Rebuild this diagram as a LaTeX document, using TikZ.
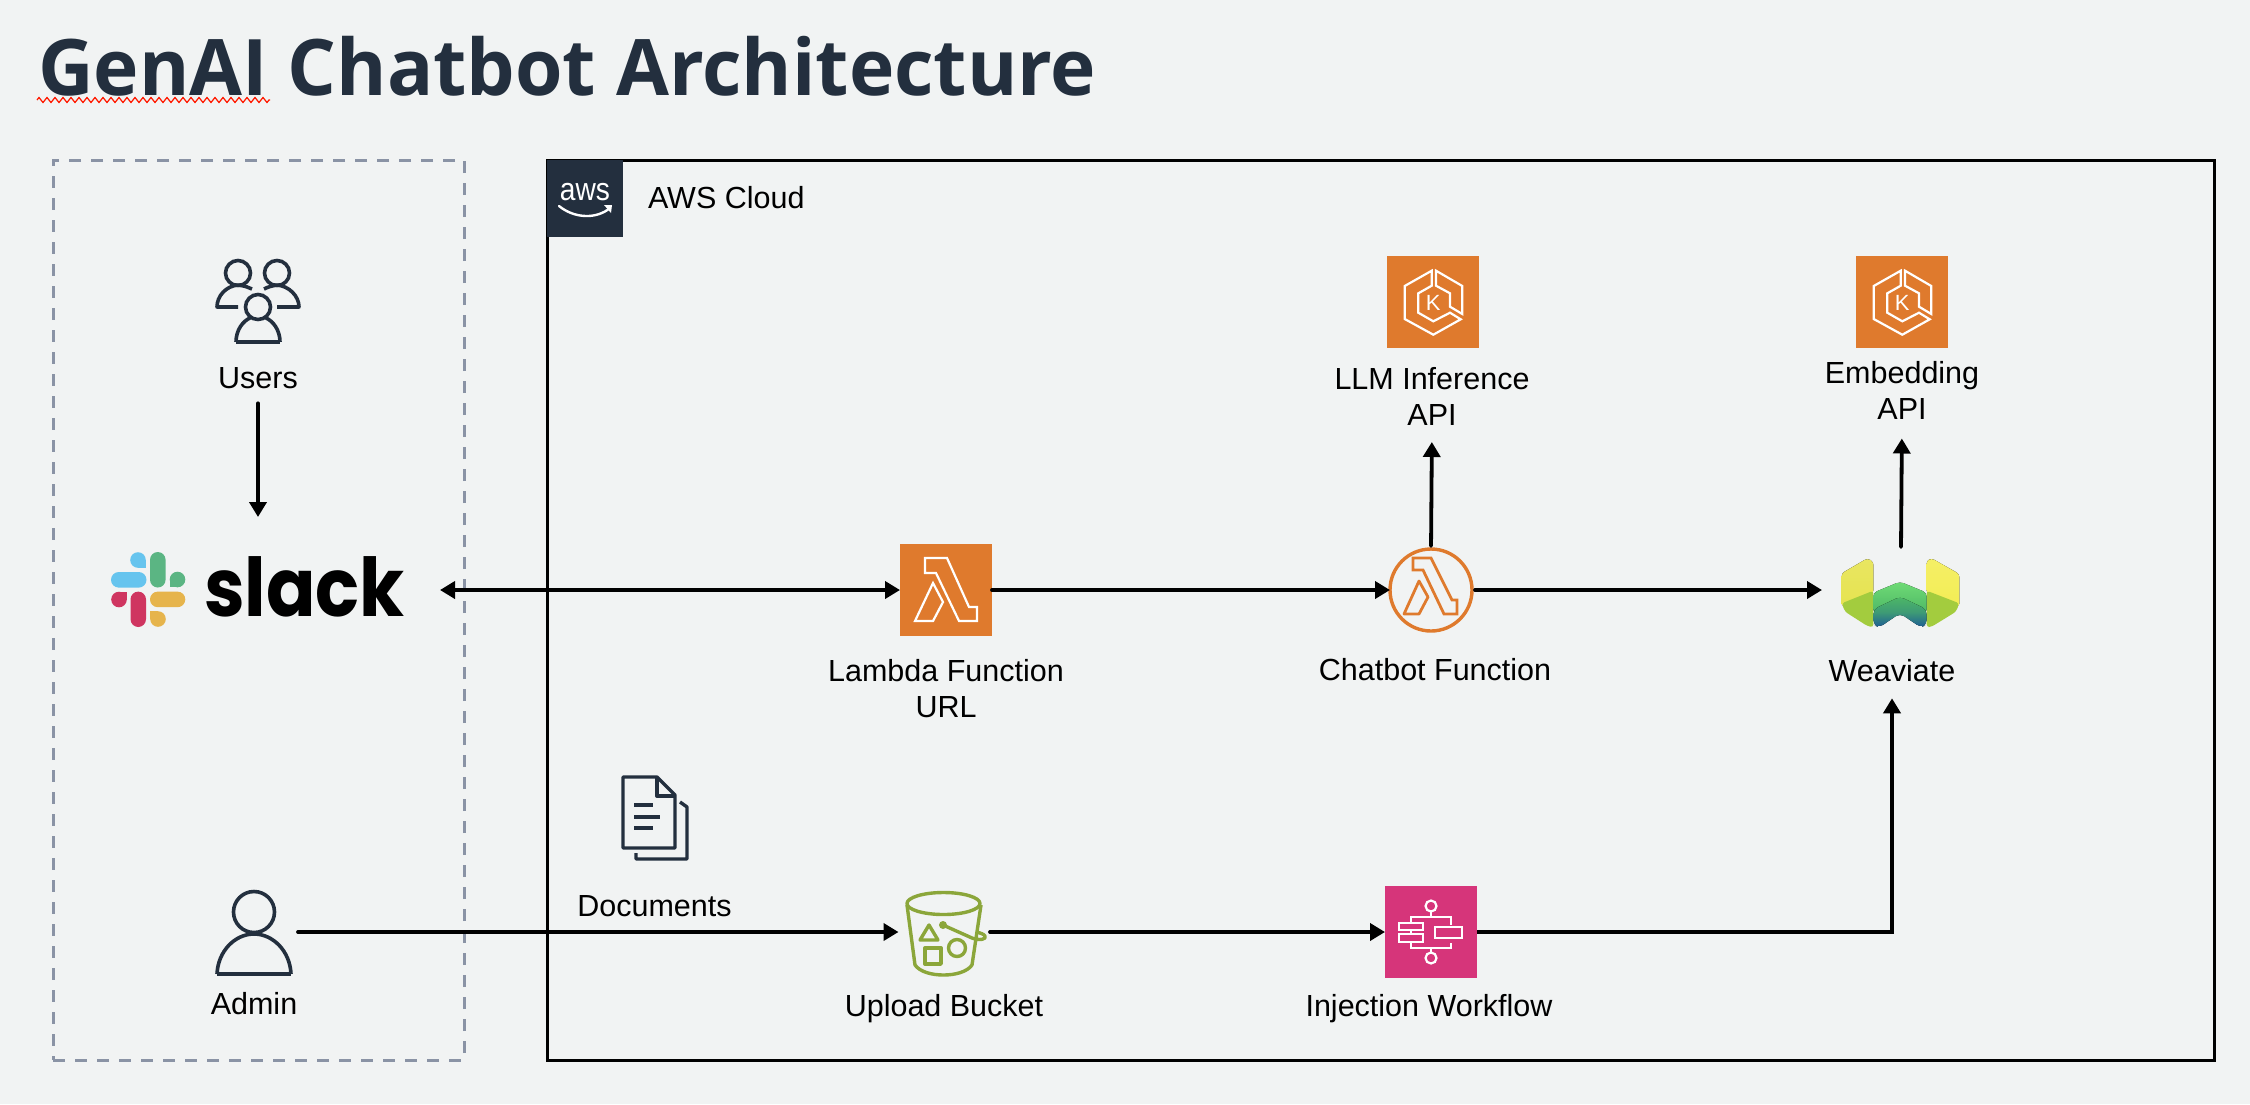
\documentclass[tikz,border=0pt]{standalone}
\usepackage{fontspec}
\setmainfont{Liberation Sans}
\newfontfamily\titlefont{Open Sans}
\newfontfamily\slackfont{Poppins}
\usetikzlibrary{arrows.meta,decorations.pathmorphing,calc}
\definecolor{bgc}{HTML}{F1F3F3}
\definecolor{ink}{HTML}{232F3E}
\definecolor{dashc}{HTML}{8A93A5}
\definecolor{awsorange}{HTML}{DF7A2D}
\definecolor{awspink}{HTML}{D6357A}
\definecolor{olive}{HTML}{8BA63A}
\definecolor{slb}{HTML}{66C4EE}
\definecolor{slg}{HTML}{5BB583}
\definecolor{slr}{HTML}{CF3560}
\definecolor{sly}{HTML}{E6B44C}
\definecolor{wvyl}{HTML}{E6E350}
\definecolor{wvyr}{HTML}{F3ED55}
\definecolor{wvlime}{HTML}{A3CC3E}
\definecolor{wvgreen}{HTML}{6FDB75}
\definecolor{wvgreenb}{HTML}{4DB766}
\definecolor{wvblue}{HTML}{1D5C96}
\newcommand{\lab}{\fontsize{30.5}{36}\selectfont}
\tikzset{
  arr/.style={line width=3.8pt,-{Triangle[length=15pt,width=17pt]},line cap=round},
  txt/.style={inner sep=0pt,outer sep=0pt,align=center,font=\lab,text=black},
  spot/.style={inner sep=0pt,outer sep=0pt,minimum width=#1,draw=none},
  tile/.style={inner sep=0pt,outer sep=0pt,minimum size=92pt,draw=none},
  wh/.style={draw=white,line width=2.2pt,line join=miter},
}
\newcommand{\kubeicon}[1]{%
  \begin{scope}[shift={(#1)}]
    \draw[white,line width=2.2pt] (-1.3,-31.3)--(-28.3,-16)--(-28.3,17)--(0.3,32.7)--(27.7,17.3)--(17,10.7)--(0.3,19.3)--(-14.7,10.7)--(-14.7,-8.7)--(-1.3,-16.3)--cycle;
    \draw[white,line width=2.2pt] (3,-31.3)--(29.3,-16)--(29.3,12)--(17,4.7)--(17,-8.7)--(3,-16.3)--cycle;
    \node[inner sep=0pt,text=white,font=\fontsize{22}{22}\selectfont] at (0.3,0.5) {K};
  \end{scope}}
\begin{document}
\begin{tikzpicture}[x=1pt,y=-1pt]
\useasboundingbox (0,0) rectangle (2250,1104);
\fill[bgc] (0,0) rectangle (2250,1104);

% title
\node[anchor=base west,inner sep=0pt,text=ink,xscale=.984] (title) at (38,95)
  {\titlefont\bfseries\fontsize{78}{78}\selectfont GenAI Chatbot Architecture};
\draw[red!80!orange,line width=1.2pt,decorate,decoration={zigzag,amplitude=2.5pt,segment length=8pt}] (37,100) -- (270,100);

% frames
\node[draw=dashc,line width=3pt,dash pattern=on 12pt off 10pt,inner sep=0pt,minimum width=411pt,minimum height=900pt] (outside) at (258.5,610) {};
\node[draw=black,line width=3pt,inner sep=0pt,minimum width=1667pt,minimum height=900pt] (cloud) at (1380.5,610) {};

% aws badge
\fill[ink] (547,160) rectangle (623,237);
\node[inner sep=0pt,text=white,anchor=base,font=\fontsize{32}{32}\selectfont,xscale=.88] (awslogo) at (585,200) {aws};
\draw[white,line width=2.4pt,line cap=round] (559,206) .. controls (575,219) and (597,219) .. (610,208);
\fill[white] (604,205) -- (612,205) -- (611,213) -- cycle;
\node[txt,anchor=base west] (cloudlabel) at (648,208) {AWS Cloud};

% named tiles and anchors
\node[tile,fill=awsorange] (lambda) at (946,590) {};
\node[circle,draw=awsorange,line width=3.4pt,fill=none,inner sep=0pt,outer sep=0pt,minimum size=82pt] (chatbot) at (1431,590) {};
\node[tile,fill=awsorange] (llm) at (1433,302) {};
\node[tile,fill=awsorange] (embed) at (1902,302) {};
\node[tile,fill=awspink] (stepfn) at (1431,932) {};
\node[spot=329pt,minimum height=146pt] (slack) at (275.5,590) {};
\node[spot=138pt,minimum height=86pt] (weaviate) at (1891,590) {};
\node[spot=88pt,minimum height=86pt] (admin) at (254,932) {};
\node[spot=91.5pt,minimum height=90pt] (bucket) at (944.25,932) {};
\coordinate (wvout) at (1901,547);

% labels
\node[txt,anchor=base] (userslabel) at (258,388) {Users};
\node[txt,anchor=base] (adminlabel) at (254,1014) {Admin};
\node[txt,anchor=south] (lambdalabel) at (946,718) {Lambda Function\\URL};
\node[txt,anchor=base] (chatbotlabel) at (1435,680) {Chatbot Function};
\node[txt,anchor=base] (wvlabel) at (1892,681) {Weaviate};
\node[txt,anchor=south] (llmlabel) at (1432,425) {LLM Inference\\API};
\node[txt,anchor=south] (embedlabel) at (1902,419.5) {Embedding\\API};
\node[txt,anchor=base] (doclabel) at (654.5,916) {Documents};
\node[txt,anchor=base] (bucketlabel) at (944,1016) {Upload Bucket};
\node[txt,anchor=base] (steplabel) at (1429,1016) {Injection Workflow};

% connectors
\draw[arr,shorten <=15pt] (userslabel.south) -- (userslabel.south |- slack.north);
\draw[line width=3.8pt,{Triangle[length=15pt,width=17pt]}-{Triangle[length=15pt,width=17pt]}] (slack.east) -- (lambda.west);
\draw[arr] (lambda.east) -- (chatbot.west);
\draw[arr,shorten <=3pt] (chatbot.east) -- (weaviate.west);
\draw[arr,shorten <=3pt,shorten >=17pt] (chatbot.north) -- (llmlabel.south);
\draw[arr,shorten >=19pt] (wvout) -- (embedlabel.south);
\draw[arr] (admin.east) -- (bucket.west);
\draw[arr] (bucket.east) -- (stepfn.west);
\draw[arr,line cap=butt,shorten >=17pt] (stepfn.east) -| (wvlabel.south);

% lambda glyphs
\begin{scope}[shift={(lambda.center)}]
  \draw[wh] (-21,-32)--(1,-32)--(23,17)--(31,17)--(31,31)--(13,31)--(-10,-17)--(-21,-17)--cycle;
  \draw[wh] (-13,-7)--(-3,12)--(-13,31)--(-31,31)--cycle;
\end{scope}
\begin{scope}[shift={(chatbot.center)}]
  \draw[awsorange,line width=2.8pt,line join=miter] (-18,-32)--(0,-32)--(21,10)--(26,10)--(26,24)--(13,24)--(-8,-20)--(-18,-20)--cycle;
  \draw[awsorange,line width=2.8pt,line join=round] (-12,-9)--(-3,7)--(-12,24)--(-27,24)--cycle;
\end{scope}

% kubernetes glyphs
\kubeicon{llm.center}
\kubeicon{embed.center}

% step functions glyph
\begin{scope}[white,line width=2.2pt]
  \draw (1431,906) circle (5.5);
  \draw (1431,958) circle (5.5);
  \draw (1431,911.5) -- (1431,917);
  \draw (1431,948) -- (1431,952.5);
  \draw (1411,923) -- (1411,917) -- (1451,917) -- (1451,925);
  \draw (1411,942) -- (1411,948) -- (1451,948) -- (1451,943);
  \draw (1411,930) -- (1411,934);
  \draw (1399,923) rectangle (1423,930);
  \draw (1399,934) rectangle (1423,942);
  \draw (1435,927) rectangle (1462,938);
\end{scope}

% users
\begin{scope}[ink,line width=3.6pt,line join=round]
  \draw (238,273) circle (12.5);
  \draw (277,273) circle (12.5);
  \draw (258,307) circle (12.5);
  \draw (236,342) -- (280,342);
  \draw (236,342) .. controls (236,330) and (243,321) .. (250,318);
  \draw (280,342) .. controls (280,330) and (273,321) .. (266,318);
  \draw (252,289) .. controls (248,287) and (245,286) .. (238,285);
  \draw (238,285) .. controls (226,286) and (217,296) .. (217,307) -- (238,307);
  \draw (264,289) .. controls (268,287) and (271,286) .. (277,285);
  \draw (277,285) .. controls (289,286) and (299,296) .. (299,307) -- (277,307);
\end{scope}

% admin
\begin{scope}[ink,line width=3.6pt,line join=round]
  \draw (254,912) circle (20.5);
  \draw (217,974) -- (291,974);
  \draw (217,974) .. controls (218,951) and (235,934) .. (254,934) .. controls (273,934) and (290,951) .. (291,974);
\end{scope}

% documents
\begin{scope}[ink,line width=3.4pt,line join=round]
  \draw (623,777) -- (657,777) -- (675,795) -- (675,848) -- (623,848) -- cycle;
  \draw (657,777) -- (657,796) -- (675,796);
  \draw (634,805) -- (653,805);
  \draw (634,817) -- (660,817);
  \draw (634,828) -- (653,828);
  \draw (680,802) -- (687,807) -- (687,859) -- (636,859) -- (636,853);
\end{scope}

% bucket
\begin{scope}[olive,line width=3.4pt,line join=round]
  \draw (943.5,903.5) ellipse (36.5 and 11);
  \draw (907,905) -- (915,965) .. controls (920,972) and (932,975) .. (943.5,975) .. controls (955,975) and (967,972) .. (972,965) -- (981,905);
  \draw (929,925) -- (920,940) -- (938,940) -- cycle;
  \draw (925,948) rectangle (941,964);
  \draw (957,948) circle (8.5);
  \fill (943,925) circle (4);
  \draw (943,925) -- (972,938) .. controls (980,941) and (987,939) .. (985,936) .. controls (984,934) and (980,933) .. (977,932);
\end{scope}

% slack mark
\fill[slb,rounded corners=7.8pt] (111,572) rectangle (146.5,587.6);
\fill[slb] (138,560) circle (7.8);
\fill[slb] (138,560) rectangle (145.8,567.8);
\fill[slg,rounded corners=7.8pt] (150,552) rectangle (165.6,587.5);
\fill[slg] (177.5,579.5) circle (7.8);
\fill[slg] (169.7,579.5) rectangle (177.5,587.3);
\fill[slr,rounded corners=7.8pt] (130.5,591.6) rectangle (146,627);
\fill[slr] (119,599.5) circle (7.8);
\fill[slr] (119,591.7) rectangle (126.8,599.5);
\fill[sly,rounded corners=7.8pt] (150,591.6) rectangle (185.3,607.2);
\fill[sly] (158,619) circle (7.8);
\fill[sly] (150.2,611.2) rectangle (158,619);
\node[anchor=base west,inner sep=0pt,text=black,xscale=.9] (slacktext) at (204,616)
  {\slackfont\bfseries\fontsize{81}{81}\selectfont slack};

% weaviate mark
\begin{scope}[shift={(1830,550)},x=0.3333pt,y=-0.3333pt,line join=round]
  \fill[top color=wvyl!90!white,bottom color=wvyl,rounded corners=3pt] (35,70)--(112,25)--(130,35)--(130,130)--(35,170)--cycle;
  \fill[top color=wvyr!90!white,bottom color=wvyr,rounded corners=3pt] (290,32)--(305,25)--(388,72)--(388,170)--(290,130)--cycle;
  \fill[wvlime,rounded corners=3pt] (35,160)--(130,122)--(130,232)--(112,228)--(45,185)--cycle;
  \fill[wvlime,rounded corners=3pt] (290,122)--(388,160)--(378,185)--(305,230)--(290,232)--cycle;
  \fill[top color=wvgreen,bottom color=wvgreenb,rounded corners=4pt] (130,128)--(210,95)--(290,128)--(290,190)--(130,190)--cycle;
  \fill[top color=wvgreenb,bottom color=wvblue,middle color=wvgreenb!70!wvblue,rounded corners=5pt] (130,178)--(210,140)--(290,178)--(290,225)--(272,232)--(210,190)--(148,232)--(130,225)--cycle;
\end{scope}
\end{tikzpicture}
\end{document}
